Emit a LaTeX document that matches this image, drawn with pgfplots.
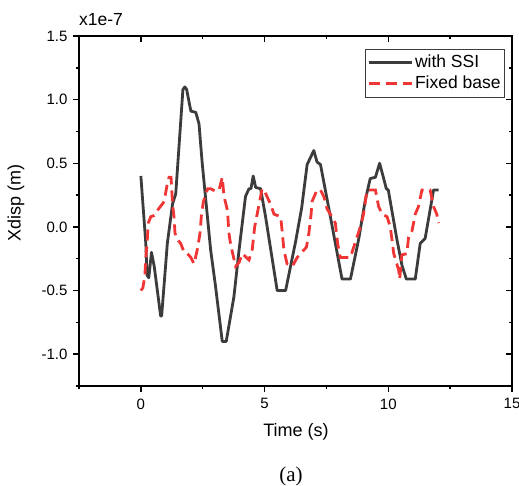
\documentclass[border=0pt]{standalone}
\usepackage{pgfplots}
\pgfplotsset{compat=1.18}
\usepackage{fontspec}
\setmainfont{Liberation Sans}
\newfontfamily\seriffont{Liberation Serif}
\definecolor{ssi}{HTML}{3C3C3C}
\definecolor{fixed}{HTML}{F03535}
\pgfplotstableread{
t y
0 0.40
0.2 -0.13
0.25 -0.38
0.32 -0.40
0.43 -0.20
0.54 -0.31
0.80 -0.70
0.84 -0.70
1.07 -0.13
1.28 0.18
1.41 0.26
1.70 1.08
1.78 1.10
1.85 1.08
2.02 0.91
2.22 0.90
2.35 0.81
2.48 0.50
2.82 -0.18
3.02 -0.47
3.29 -0.90
3.45 -0.90
3.76 -0.55
3.97 -0.18
4.23 0.24
4.37 0.30
4.45 0.30
4.54 0.40
4.64 0.31
4.84 0.30
5.04 0.08
5.51 -0.50
5.85 -0.50
6.25 -0.12
6.50 0.15
6.72 0.49
6.99 0.60
7.12 0.51
7.26 0.49
7.66 0.08
8.13 -0.41
8.47 -0.41
8.80 -0.10
9.07 0.21
9.27 0.38
9.48 0.39
9.65 0.50
9.80 0.39
9.92 0.30
10.0 0.29
10.35 -0.10
10.55 -0.30
10.73 -0.41
11.09 -0.41
11.29 -0.13
11.49 -0.09
11.83 0.29
12.03 0.29
}\ssidata
\pgfplotstableread{
t y
0 -0.50
0.08 -0.48
0.16 -0.39
0.2 -0.24
0.25 -0.13
0.3 0.03
0.4 0.08
0.54 0.09
0.67 0.13
0.87 0.18
0.94 0.20
1.07 0.34
1.14 0.39
1.22 0.39
1.28 0.18
1.34 0.08
1.38 -0.05
1.48 -0.10
1.61 -0.13
1.75 -0.20
1.88 -0.21
2.02 -0.24
2.15 -0.29
2.28 -0.18
2.39 -0.05
2.45 0.10
2.53 0.20
2.70 0.30
2.82 0.30
3.02 0.28
3.16 0.29
3.29 0.39
3.36 0.24
3.50 0.13
3.56 -0.05
3.63 -0.14
3.83 -0.31
3.97 -0.28
4.10 -0.21
4.37 -0.26
4.50 -0.18
4.60 0.00
4.68 0.08
4.90 0.30
5.0 0.28
5.24 0.18
5.38 0.10
5.65 0.08
5.71 -0.03
5.78 -0.18
5.91 -0.29
6.12 -0.31
6.32 -0.24
6.50 -0.20
6.69 -0.16
6.79 -0.05
6.88 0.10
6.92 0.20
7.12 0.29
7.26 0.29
7.39 0.24
7.53 0.14
7.66 0.10
7.86 0.03
7.96 -0.14
8.06 -0.24
8.47 -0.24
8.60 -0.16
8.87 0.00
9.00 0.10
9.14 0.29
9.48 0.29
9.61 0.16
9.75 0.10
9.95 0.08
10.08 0.00
10.15 -0.10
10.22 -0.21
10.42 -0.34
10.46 -0.41
10.55 -0.22
10.75 -0.21
10.82 -0.08
10.96 -0.03
11.09 0.10
11.22 0.16
11.36 0.29
11.69 0.29
11.83 0.16
11.96 0.10
12.03 0.03
}\fixeddata
\begin{document}
\begin{tikzpicture}
\path[use as bounding box] (0pt,0pt) rectangle (519pt,486pt);
\begin{axis}[at={(79pt,100pt)}, anchor=south west,
 width=433pt, height=350pt, scale only axis,
 xmin=-2.5, xmax=15, ymin=-1.25, ymax=1.5,
 xtick={0,5,10,15}, xticklabels={0,5,10,15},
 minor xtick={-2.5,2.5,7.5,12.5},
 ytick={-1,-0.5,0,0.5,1,1.5}, yticklabels={-1.0,-0.5,0.0,0.5,1.0,1.5},
 minor ytick={-1.25,-0.75,-0.25,0.25,0.75,1.25},
 xtick pos=left, ytick pos=left, tick align=outside,
 major tick length=6pt, minor tick length=3.5pt,
 every tick/.style={black, line width=1.4pt},
 axis line style={line width=1.6pt},
 ticklabel style={font=\fontsize{15}{18}\selectfont},
 xticklabel style={yshift=-3pt},
 yticklabel style={xshift=-2pt},
 legend style={at={(1,1)}, anchor=north east, xshift=-7pt, yshift=-13pt,
   draw=ssi, line width=0.8pt, font=\fontsize{17.5}{20}\selectfont,
   inner xsep=2pt, inner ysep=3.5pt, row sep=1pt,
   nodes={text height=13pt, text depth=3pt, inner sep=2pt}},
 legend cell align=left,
 legend image code/.code={\draw[#1] (0pt,0pt) -- (43pt,0pt);},
]
\addplot[ssi, line width=2.8pt, line join=round] table[x=t,y=y] {\ssidata};
\addplot[fixed, line width=2.8pt, dash pattern=on 11pt off 6pt] table[x=t,y=y] {\fixeddata};
\legend{with SSI, Fixed base}
\end{axis}
\begin{axis}[at={(79pt,100pt)}, anchor=south west,
 width=433pt, height=350pt, scale only axis,
 xmin=-2.5, xmax=15, ymin=-1.25, ymax=1.5,
 xtick={0,5,10,15}, xticklabels={},
 minor xtick={-2.5,2.5,7.5,12.5},
 ytick={-1,-0.5,0,0.5,1,1.5}, yticklabels={},
 minor ytick={-1.25,-0.75,-0.25,0.25,0.75,1.25},
 xtick pos=right, ytick pos=right, tick align=inside,
 major tick length=6pt, minor tick length=3.5pt,
 every tick/.style={black, line width=1.4pt},
 axis line style={line width=1.6pt},
]
\end{axis}
\node[font=\fontsize{18}{21}\selectfont] at (296pt,54pt) {Time (s)};
\node[rotate=90, font=\fontsize{18}{21}\selectfont] at (16pt,283pt) {Xdisp (m)};
\node[anchor=west, inner sep=0pt, font=\fontsize{17.5}{20}\selectfont] at (79pt,466pt) {x1e-7};
\node[font=\seriffont\fontsize{21}{24}\selectfont] at (291pt,9.5pt) {(a)};
\end{tikzpicture}
\end{document}
